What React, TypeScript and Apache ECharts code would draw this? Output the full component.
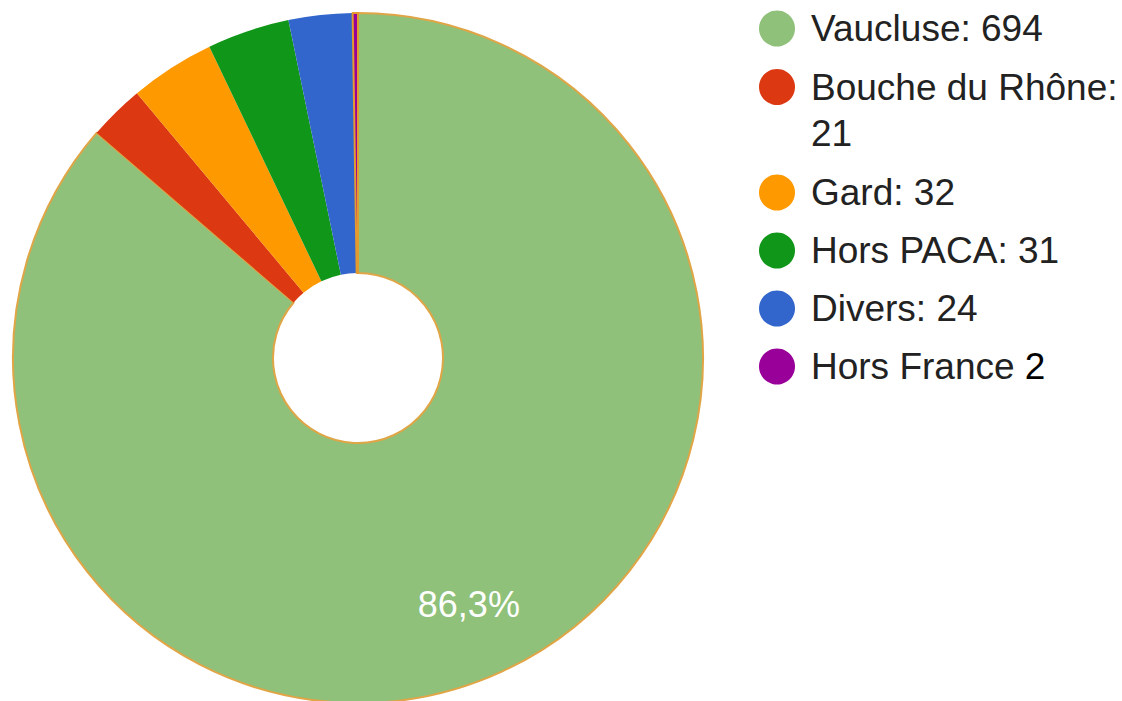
import React, { useEffect, useRef } from "react";
import * as echarts from "echarts";

const names = ["Vaucluse", "Bouche du Rhône", "Gard", "Hors PACA", "Divers", "Hors France"];
const values = [694, 21, 32, 31, 24, 2];
const colors = ["#8fc17a", "#dc3912", "#ff9900", "#109618", "#3366cc", "#990099"];

const FONT = "'Liberation Sans', Arial, sans-serif";

export default function App() {
  const ref = useRef<HTMLDivElement>(null);
  useEffect(() => {
    if (!ref.current) return;
    const chart = echarts.init(ref.current, undefined, { renderer: "svg" });
    const valueOf = (n: string) => values[names.indexOf(n)];
    const data = names.map((n, i) => {
      const item: any = {
        name: n,
        value: values[i],
        itemStyle: { color: colors[i] },
      };
      if (i === 0) {
        item.itemStyle.borderColor = "#e0a546";
        item.itemStyle.borderWidth = 2;
        item.label = { show: true };
      }
      if (n === "Hors France") {
        item.itemStyle.borderColor = "#e39a2f";
        item.itemStyle.borderWidth = 2;
      }
      return item;
    });
    const baseLegend = {
      orient: "vertical",
      left: 759,
      padding: 0,
      icon: "circle",
      itemWidth: 36,
      itemHeight: 36,
      itemStyle: { borderWidth: 0 },
      selectedMode: false,
    };
    const textBase = {
      fontFamily: FONT,
      fontSize: 37,
      color: "#222",
      lineHeight: 36,
      padding: [0, 0, 0, 11],
      rich: { k: { fontFamily: FONT, fontSize: 37, color: "#000", lineHeight: 36 } },
    };
    chart.setOption({
      animation: false,
      backgroundColor: "#ffffff",
      legend: [
        {
          ...baseLegend,
          top: 10,
          data: [names[0]],
          textStyle: textBase,
          formatter: (n: string) => `${n}: ${valueOf(n)}`,
        },
        {
          ...baseLegend,
          top: 18,
          data: [names[1]],
          textStyle: { ...textBase, lineHeight: 46, padding: [46, 0, 0, 11] },
          formatter: (n: string) => `${n}:\n${valueOf(n)}`,
        },
        {
          ...baseLegend,
          top: 174,
          itemGap: 21,
          data: names.slice(2),
          textStyle: textBase,
          formatter: (n: string) =>
            n === "Hors France" ? `${n} {k|${valueOf(n)}}` : `${n}: ${valueOf(n)}`,
        },
      ],
      series: [
        {
          type: "pie",
          center: [358, 358],
          radius: [85, 345],
          startAngle: 90,
          clockwise: true,
          avoidLabelOverlap: false,
          label: {
            show: false,
            position: "inside",
            offset: [20, 48],
            color: "#ffffff",
            fontFamily: FONT,
            fontSize: 36,
            formatter: (p: any) => `${p.percent.toFixed(1).replace(".", ",")}%`,
          },
          labelLine: { show: false },
          emphasis: { disabled: true },
          data,
        },
      ],
    });
    return () => chart.dispose();
  }, []);
  return (
    <div
      ref={ref}
      style={{ position: "fixed", left: 0, top: 0, width: 1122, height: 701 }}
    />
  );
}
